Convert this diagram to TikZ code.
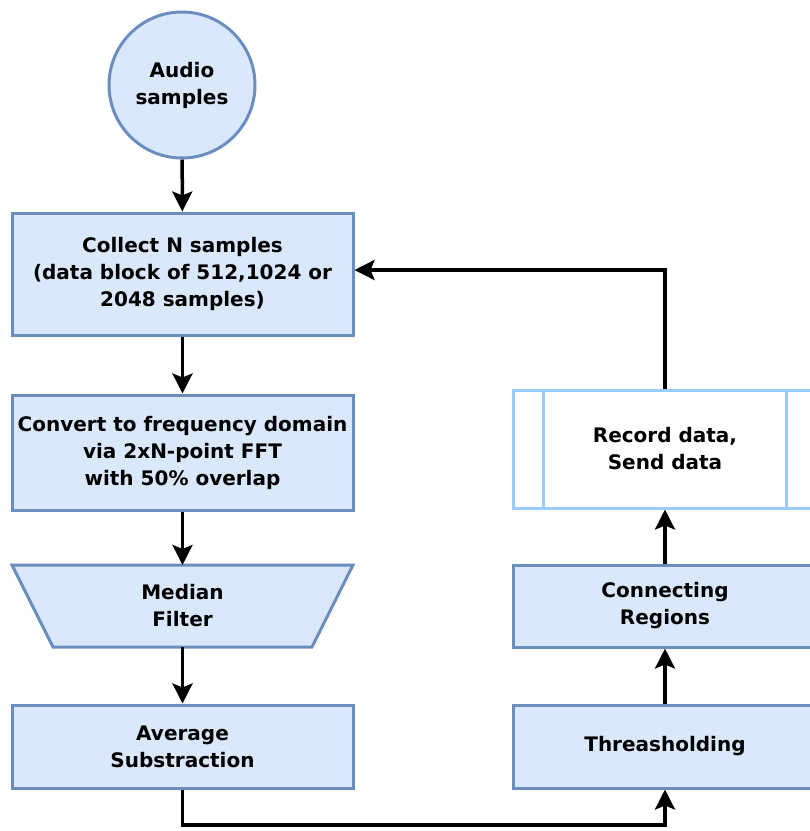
\documentclass[tikz,border=0pt]{standalone}
\usepackage{fontspec}
\setmainfont{DejaVu Sans}
\usetikzlibrary{arrows.meta}
\definecolor{fillb}{HTML}{DAE8FC}
\definecolor{drawb}{HTML}{6C8EBF}
\definecolor{lightb}{HTML}{99CCFF}
\begin{document}
\begin{tikzpicture}[x=1pt,y=-1pt,
  txt/.style={align=center, font=\fontsize{20}{27}\selectfont\bfseries, inner sep=0pt},
  box/.style={txt, draw=drawb, fill=fillb, line width=3pt, minimum width=341pt},
  rbox/.style={box, minimum width=304pt},
  arr/.style={line width=3.5pt, -{Stealth[length=20pt,width=20pt,inset=4pt]}}]
\useasboundingbox (0,0) rectangle (810,831);

\node[box, circle, minimum size=146pt] (audio) at (182,85) {Audio\\samples};
\node[box, minimum height=122pt] (collect) at (182.5,274) {Collect N samples\\(data block of 512,1024 or\\2048 samples)};
\node[box, minimum height=115pt] (fft) at (182.5,452.5) {Convert to frequency domain\\via 2xN-point FFT\\with 50\% overlap};

\coordinate (mtop) at (182.5,565);
\coordinate (mbot) at (182.5,647);
\filldraw[draw=drawb, fill=fillb, line width=3pt] (12,565) -- (353,565) -- (312,647) -- (53,647) -- cycle;
\node[txt] (median) at (182.5,606) {Median\\Filter};

\node[box, minimum height=83pt] (avg) at (182.5,746.5) {Average\\Substraction};
\node[rbox, minimum height=83pt] (thr) at (665,746.5) {Threasholding};
\node[rbox, minimum height=82pt] (conn) at (665,606) {Connecting\\Regions};
\node[rbox, minimum height=118pt, draw=lightb, fill=white] (rec) at (665,449) {Record data,\\Send data};
\draw[draw=lightb, line width=3pt] ([xshift=32pt]rec.north west) -- ([xshift=32pt]rec.south west)
  ([xshift=-32pt]rec.north east) -- ([xshift=-32pt]rec.south east);

\coordinate (bl) at (182.5,825);
\coordinate (br) at (665,825);
\coordinate (tr) at (665,270);

\draw[arr] (audio) -- (collect);
\draw[arr] (collect) -- (fft);
\draw[arr] (fft) -- (mtop);
\draw[arr] (mbot) -- (avg);
\draw[arr] (avg.south) -- (bl) -- (br) -- (thr.south);
\draw[arr] (thr) -- (conn);
\draw[arr] (conn) -- (rec);
\draw[arr] (rec.north) -- (tr) -- (collect.east |- tr);
\end{tikzpicture}
\end{document}
